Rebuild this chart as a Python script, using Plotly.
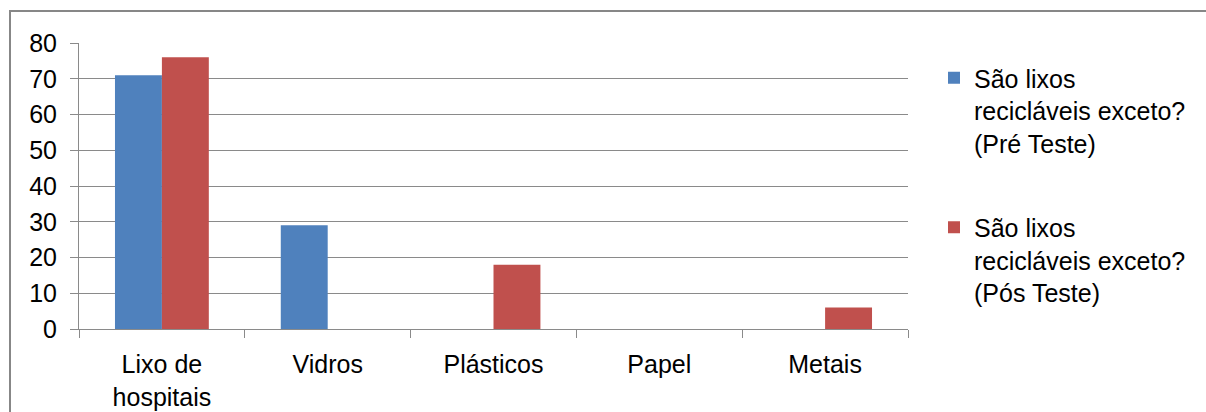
import plotly.graph_objects as go

# Survey answers: "São lixos recicláveis exceto?" before and after the test
categories = ["Lixo de<br>hospitais", "Vidros", "Plásticos", "Papel", "Metais"]
pre_teste = [71, 29, 0, 0, 0]
pos_teste = [76, 0, 18, 0, 6]
series_names = [
    "São lixos<br>recicláveis exceto?<br>(Pré Teste)",
    "São lixos<br>recicláveis exceto?<br>(Pós Teste)",
]
y_ticks = [0, 10, 20, 30, 40, 50, 60, 70, 80]

W, H = 1206, 412
M_L, M_R, M_T, M_B = 79, 298, 43, 83
PLOT_W = W - M_L - M_R
PLOT_H = H - M_T - M_B


def px_x(px):
    return (px - M_L) / PLOT_W


def px_y(py):
    return (H - M_B - py) / PLOT_H


FONT = "Liberation Sans, Arial, sans-serif"
FS = 25
GRID = "#8a8a8a"

fig = go.Figure()
fig.add_trace(go.Bar(
    x=categories, y=pre_teste, name=series_names[0], legendgroup="pre",
    marker=dict(color="#4F81BD", line=dict(width=0)),
))
fig.add_trace(go.Bar(
    x=categories, y=pos_teste, name=series_names[1], legendgroup="pos",
    marker=dict(color="#C0504D", line=dict(width=0)),
))

fig.update_layout(
    width=W, height=H, autosize=False,
    margin=dict(l=M_L, r=M_R, t=M_T, b=M_B, pad=0),
    paper_bgcolor="white", plot_bgcolor="white",
    font=dict(family=FONT, size=FS, color="#000000"),
    barmode="group", bargap=0.434, bargroupgap=0,
    legend=dict(
        x=px_x(934), y=px_y(55), xanchor="left", yanchor="top",
        valign="top", traceorder="grouped", tracegroupgap=49,
        font=dict(family=FONT, size=FS, color="#000000"),
        bgcolor="rgba(0,0,0,0)", borderwidth=0,
    ),
    shapes=[
        # chart frame (top and left edges visible)
        dict(type="rect", xref="paper", yref="paper",
             x0=px_x(10), x1=px_x(1300), y0=px_y(500), y1=px_y(11),
             line=dict(color="#878787", width=2), fillcolor="rgba(0,0,0,0)",
             layer="below"),
    ],
)

fig.update_xaxes(
    automargin=False,
    showline=True, linecolor=GRID, linewidth=1,
    ticks="outside", ticklen=8, tickcolor=GRID, tickwidth=1,
    tickson="boundaries", showgrid=False,
    tickfont=dict(family=FONT, size=FS, color="#000000"),
    ticklabelstandoff=13,
)
fig.update_yaxes(
    automargin=False,
    range=[0, 80], tickvals=y_ticks, showgrid=True, gridcolor=GRID, gridwidth=1,
    showline=True, linecolor=GRID, linewidth=1, zeroline=False,
    ticks="outside", ticklen=8, tickcolor=GRID, tickwidth=1,
    tickfont=dict(family=FONT, size=FS, color="#000000"),
    ticklabelstandoff=8,
)

fig.write_html("out.html")
